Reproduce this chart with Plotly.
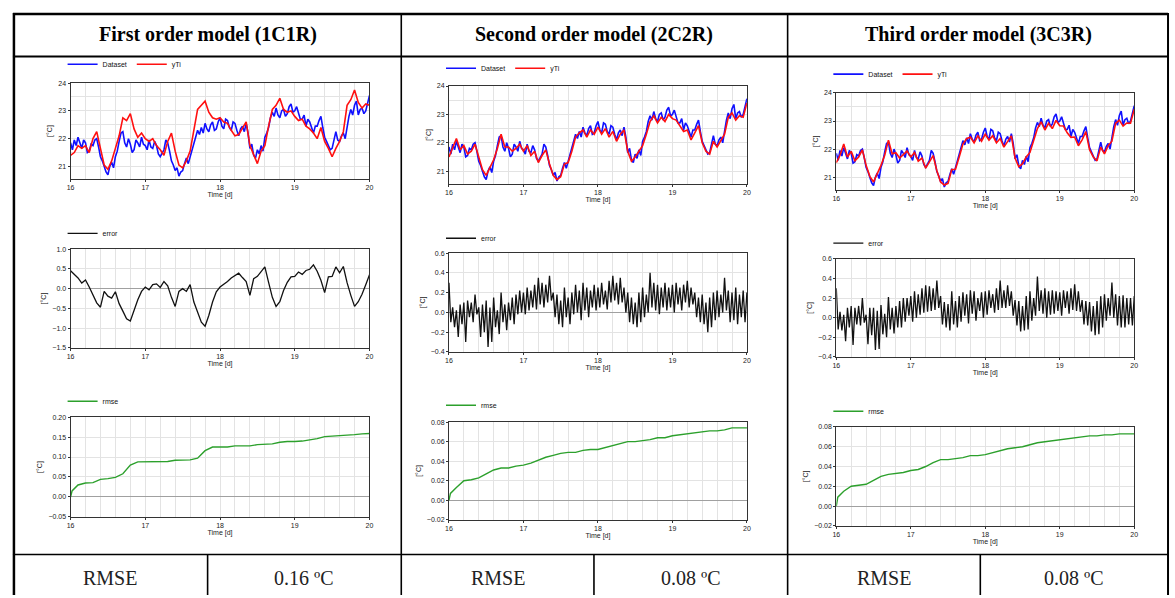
import plotly.graph_objects as go

# ---------------- data ----------------
t = [round(16 + 0.05 * i, 3) for i in range(81)]       # 0.05-day samples
t_fine = [round(16 + 0.025 * i, 3) for i in range(161)]  # 0.025-day samples

dataset = [21.85, 21.60, 21.95, 21.75, 22.05, 21.80, 21.65, 21.95, 21.85, 21.50,
           21.55, 21.80, 21.75, 21.95, 22.00, 21.70, 21.35, 21.20, 21.00, 20.80,
           20.70, 21.00, 21.15, 20.95, 21.35, 21.55, 21.90, 22.20, 22.25, 21.85,
           21.70, 22.00, 21.80, 21.50, 21.60, 21.95, 21.85, 21.70, 22.05, 21.80,
           21.75, 21.60, 21.95, 21.70, 21.65, 21.90, 21.75, 21.45, 21.35, 21.50,
           21.60, 21.95, 21.85, 21.55, 21.20, 21.05, 20.85, 20.95, 20.65, 20.80,
           20.85, 21.10, 21.30, 21.10, 21.35, 21.60, 21.80, 22.10, 22.30, 22.15,
           22.40, 22.20, 22.55, 22.35, 22.25, 22.50, 22.60, 22.30, 22.35, 22.60,
           22.75, 22.45, 22.35, 22.70, 22.65, 22.40, 22.30, 22.60, 22.55, 22.30,
           22.10, 22.35, 22.45, 22.25, 22.55, 22.20, 21.65, 21.80, 21.40, 21.30,
           21.60, 21.45, 21.75, 21.55, 22.05, 22.20, 22.40, 22.75, 22.95, 22.80,
           23.10, 22.85, 22.75, 23.00, 23.05, 22.80, 22.90, 23.15, 23.25, 22.95,
           23.00, 23.15, 22.90, 22.70, 22.70, 22.85, 22.45, 22.70, 22.60, 22.35,
           22.20, 22.45, 22.45, 22.65, 22.80, 22.40, 22.05, 21.90, 21.75, 21.60,
           21.65, 21.95, 22.25, 21.95, 21.90, 22.10, 22.20, 22.00, 22.45, 22.80,
           23.05, 22.85, 23.20, 23.35, 22.85, 23.05, 23.10, 22.90, 23.00, 23.30,
           23.55]

yti_1 = [21.40, 21.50, 21.75, 21.65, 21.75, 21.50, 22.00, 22.25, 21.65, 21.05,
         20.90, 21.20, 21.65, 22.10, 22.75, 22.65, 22.90, 22.35, 22.05, 22.20,
         22.00, 21.90, 22.00, 21.75, 21.60, 21.40, 21.90, 22.20, 21.55, 21.05,
         20.95, 21.20, 21.55, 22.25, 23.05, 23.20, 23.35, 22.95, 22.75, 22.70,
         22.75, 22.60, 22.55, 22.30, 22.10, 22.15, 22.40, 22.60, 21.75, 21.45,
         21.10, 21.55, 21.75, 22.45, 23.05, 23.20, 23.45, 23.05, 22.95, 23.00,
         22.80, 22.65, 22.70, 22.45, 22.35, 22.20, 22.00, 22.40, 21.90, 21.65,
         21.35, 21.65, 21.90, 22.25, 23.20, 23.40, 23.75, 23.30, 23.10, 23.25,
         23.20]

yti_2 = [21.50, 21.80, 22.15, 21.75, 21.90, 21.60, 21.70, 21.95, 21.45, 21.05,
         20.85, 21.10, 21.40, 21.80, 22.30, 21.85, 21.85, 21.70, 21.80, 21.95,
         21.70, 21.90, 21.55, 21.70, 21.30, 21.55, 21.75, 21.25, 20.85, 20.70,
         20.80, 21.25, 21.30, 21.70, 22.20, 22.35, 22.45, 22.20, 22.45, 22.30,
         22.55, 22.30, 22.50, 22.20, 22.40, 22.05, 22.30, 22.45, 21.70, 21.35,
         21.50, 21.70, 21.90, 22.30, 22.75, 22.95, 22.70, 22.90, 22.75, 23.00,
         22.85, 22.80, 22.60, 22.40, 22.45, 22.10, 22.35, 22.60, 22.00, 21.70,
         21.60, 22.05, 21.85, 22.10, 22.30, 22.90, 23.05, 22.80, 22.95, 22.90,
         23.40]

yti_3 = [21.52, 21.78, 22.18, 21.72, 21.92, 21.58, 21.72, 21.97, 21.42, 21.03,
         20.83, 21.12, 21.42, 21.78, 22.32, 21.83, 21.87, 21.68, 21.82, 21.93,
         21.72, 21.88, 21.57, 21.68, 21.32, 21.53, 21.77, 21.23, 20.83, 20.72,
         20.78, 21.27, 21.28, 21.72, 22.18, 22.37, 22.43, 22.22, 22.47, 22.28,
         22.53, 22.32, 22.48, 22.22, 22.38, 22.07, 22.28, 22.47, 21.68, 21.37,
         21.48, 21.72, 21.88, 22.32, 22.73, 22.97, 22.68, 22.92, 22.73, 23.02,
         22.83, 22.82, 22.58, 22.42, 22.43, 22.12, 22.33, 22.62, 21.98, 21.72,
         21.58, 22.07, 21.83, 22.12, 22.28, 22.92, 23.03, 22.82, 22.93, 22.92,
         23.42]

error_1 = [0.45, 0.37, 0.27, 0.14, 0.22, 0.04, -0.17, -0.36, -0.47, -0.07,
           -0.19, -0.24, -0.08, -0.38, -0.57, -0.76, -0.82, -0.55, -0.28, -0.07,
           0.04, -0.03, 0.10, 0.12, 0.03, 0.18, 0.07, -0.22, -0.45, -0.07,
           0.00, -0.07, 0.10, -0.34, -0.59, -0.85, -0.95, -0.68, -0.34, -0.08,
           0.04, 0.10, 0.18, 0.27, 0.32, 0.39, 0.28, 0.18, -0.17, 0.25,
           0.31, 0.42, 0.55, 0.16, -0.22, -0.45, -0.33, -0.05, 0.16, 0.30,
           0.31, 0.42, 0.36, 0.46, 0.49, 0.60, 0.44, 0.21, -0.10, 0.30,
           0.31, 0.55, 0.40, 0.56, 0.15, -0.17, -0.45, -0.33, -0.14, 0.10,
           0.35]

error_2 = [0.30, -0.10, 0.05, -0.15, 0.02, -0.25, 0.08, -0.12, 0.10, -0.30,
           0.12, -0.05, 0.10, -0.10, 0.18, -0.02, 0.05, -0.25, 0.08, -0.20,
           0.12, -0.35, 0.05, -0.30, 0.15, -0.15, 0.02, -0.22, 0.20, -0.10,
           0.08, -0.18, 0.10, -0.08, 0.15, -0.12, 0.18, -0.02, 0.22, 0.00,
           0.20, -0.02, 0.25, 0.02, 0.22, 0.05, 0.28, 0.03, 0.35, 0.08,
           0.30, 0.05, 0.28, 0.10, 0.37, 0.12, 0.20, -0.05, 0.18, -0.12,
           0.12, -0.15, 0.25, -0.05, 0.15, -0.12, 0.20, -0.02, 0.28, 0.00,
           0.22, -0.08, 0.30, 0.02, 0.25, -0.05, 0.22, 0.05, 0.28, 0.02,
           0.25, 0.05, 0.30, 0.08, 0.22, 0.03, 0.32, 0.10, 0.37, 0.12,
           0.30, 0.08, 0.35, 0.10, 0.25, 0.00, 0.20, -0.10, 0.15, -0.12,
           0.10, -0.15, 0.20, -0.10, 0.25, -0.05, 0.18, 0.00, 0.40, 0.05,
           0.30, 0.02, 0.28, -0.02, 0.25, 0.05, 0.30, 0.02, 0.25, 0.05,
           0.28, 0.00, 0.30, 0.08, 0.25, 0.02, 0.28, 0.10, 0.32, 0.05,
           0.25, 0.08, 0.20, -0.05, 0.15, -0.10, 0.18, -0.12, 0.10, -0.20,
           0.15, -0.15, 0.20, -0.08, 0.22, -0.05, 0.18, 0.00, 0.35, 0.02,
           0.22, -0.10, 0.20, -0.08, 0.25, -0.12, 0.18, -0.05, 0.22, -0.10,
           0.20]

error_3 = [0.30, -0.12, 0.06, -0.13, 0.03, -0.24, 0.10, -0.10, 0.12, -0.28,
           0.10, -0.07, 0.12, -0.08, 0.20, -0.05, 0.03, -0.27, 0.10, -0.18,
           0.10, -0.33, 0.07, -0.32, 0.13, -0.17, 0.04, -0.20, 0.21, -0.12,
           0.10, -0.16, 0.12, -0.10, 0.17, -0.10, 0.20, -0.04, 0.20, 0.02,
           0.22, -0.04, 0.27, 0.00, 0.24, 0.03, 0.30, 0.05, 0.33, 0.06,
           0.32, 0.07, 0.30, 0.08, 0.38, 0.10, 0.22, -0.07, 0.16, -0.10,
           0.14, -0.13, 0.27, -0.07, 0.17, -0.10, 0.22, -0.04, 0.26, 0.02,
           0.24, -0.06, 0.28, 0.04, 0.27, -0.03, 0.20, 0.07, 0.26, 0.00,
           0.27, 0.03, 0.28, 0.10, 0.24, 0.05, 0.30, 0.08, 0.38, 0.10,
           0.28, 0.10, 0.33, 0.12, 0.27, 0.02, 0.18, -0.08, 0.17, -0.14,
           0.12, -0.13, 0.22, -0.12, 0.27, -0.03, 0.20, 0.02, 0.42, 0.07,
           0.28, 0.04, 0.30, 0.00, 0.27, 0.03, 0.28, 0.04, 0.27, 0.07,
           0.26, 0.02, 0.28, 0.10, 0.27, 0.04, 0.30, 0.08, 0.34, 0.07,
           0.27, 0.06, 0.18, -0.07, 0.17, -0.08, 0.16, -0.14, 0.12, -0.18,
           0.17, -0.17, 0.22, -0.10, 0.24, -0.03, 0.20, 0.02, 0.36, 0.00,
           0.24, -0.08, 0.22, -0.10, 0.23, -0.10, 0.20, -0.07, 0.20, -0.08,
           0.22]

t_rmse = [16.0, 16.02] + [round(16.1 + 0.1 * i, 2) for i in range(40)]

rmse_1 = [0.000, 0.015,
          0.030, 0.035, 0.036, 0.044, 0.046, 0.049, 0.058, 0.080, 0.088, 0.088,
          0.088, 0.088, 0.089, 0.092, 0.093, 0.093, 0.097, 0.116, 0.125, 0.125,
          0.125, 0.128, 0.128, 0.128, 0.131, 0.132, 0.133, 0.137, 0.139, 0.139,
          0.140, 0.143, 0.146, 0.151, 0.152, 0.153, 0.155, 0.156, 0.158, 0.159]

rmse_2 = [0.000, 0.007,
          0.013, 0.020, 0.021, 0.023, 0.027, 0.031, 0.033, 0.033, 0.035, 0.036,
          0.038, 0.041, 0.044, 0.046, 0.048, 0.049, 0.049, 0.051, 0.052, 0.052,
          0.054, 0.056, 0.058, 0.060, 0.060, 0.061, 0.062, 0.064, 0.064, 0.066,
          0.067, 0.068, 0.069, 0.070, 0.071, 0.071, 0.072, 0.074, 0.074, 0.074]

rmse_3 = [0.000, 0.009,
          0.015, 0.020, 0.021, 0.022, 0.026, 0.030, 0.032, 0.033, 0.034, 0.036,
          0.037, 0.040, 0.044, 0.047, 0.047, 0.048, 0.049, 0.051, 0.051, 0.052,
          0.054, 0.056, 0.058, 0.059, 0.060, 0.062, 0.064, 0.065, 0.066, 0.067,
          0.068, 0.069, 0.070, 0.071, 0.071, 0.072, 0.072, 0.073, 0.073, 0.073]

headers = ["First order model (1C1R)", "Second order model (2C2R)", "Third order model (3C3R)"]
rmse_labels = ["0.16 ºC", "0.08 ºC", "0.08 ºC"]
yti_all = [yti_1, yti_2, yti_3]
err_all = [(t, error_1), (t_fine, error_2), (t_fine, error_3)]
rmse_all = [rmse_1, rmse_2, rmse_3]

# ---------------- layout helpers ----------------
W, H = 1175, 598
def px(x): return x / W
def py(y): return 1 - y / H

cols_x = [(67, 368), (448, 748), (838, 1138)]
rows_y = [[(80, 177), (248, 348), (418, 519)],
          [(83, 182), (252, 352), (423, 522)],
          [(90, 188), (258, 357), (428, 528)]]
legend_y = [[61, 232, 402], [65, 237, 406], [71, 242, 412]]

BLUE, RED, GREEN, BLACK = "#1010ff", "#ff1010", "#2ca02c", "#111111"
TICKFONT = dict(family="Liberation Sans", size=7, color="#222")

fig = go.Figure()
layout = {}

def axis_name(k, kind):
    return kind if k == 1 else f"{kind}{k}"

for c in range(3):
    for r in range(3):
        k = c * 3 + r + 1
        xa, ya = axis_name(k, "x"), axis_name(k, "y")
        lg = "legend" if k == 1 else f"legend{k}"
        if r == 0:
            fig.add_trace(go.Scatter(x=t_fine, y=dataset, mode="lines", name="Dataset",
                                     line=dict(color=BLUE, width=1.6),
                                     xaxis=xa, yaxis=ya, legend=lg))
            fig.add_trace(go.Scatter(x=t, y=yti_all[c], mode="lines", name="yTi",
                                     line=dict(color=RED, width=1.6),
                                     xaxis=xa, yaxis=ya, legend=lg))
            yconf = dict(range=[20.55, 24.0], dtick=1, tick0=21, tickformat="d",
                         minor=dict(dtick=0.5, showgrid=True, gridcolor="#e3e3e3", ticks=""),
                         zeroline=False)
        elif r == 1:
            ex, ey = err_all[c]
            fig.add_trace(go.Scatter(x=ex, y=ey, mode="lines", name="error",
                                     line=dict(color=BLACK, width=1.3),
                                     xaxis=xa, yaxis=ya, legend=lg))
            if c == 0:
                yconf = dict(range=[-1.5, 1.0], dtick=0.5, tick0=0, tickformat=".1f")
            else:
                yconf = dict(range=[-0.4, 0.6], dtick=0.2, tick0=0, tickformat=".1f")
            yconf.update(zeroline=True, zerolinecolor="#a0a0a0", zerolinewidth=1)
        else:
            fig.add_trace(go.Scatter(x=t_rmse, y=rmse_all[c], mode="lines", name="rmse",
                                     line=dict(color=GREEN, width=1.4),
                                     xaxis=xa, yaxis=ya, legend=lg))
            if c == 0:
                yconf = dict(range=[-0.05, 0.20], dtick=0.05, tick0=0, tickformat=".2f")
            else:
                yconf = dict(range=[-0.02, 0.08], dtick=0.02, tick0=0, tickformat=".2f")
            yconf.update(zeroline=True, zerolinecolor="#a0a0a0", zerolinewidth=1)

        x0, x1 = cols_x[c]
        y0, y1 = rows_y[c][r]
        layout["xaxis" if k == 1 else f"xaxis{k}"] = dict(
            domain=[px(x0), px(x1)], anchor=ya, range=[16, 20], tick0=16, dtick=1,
            tickformat="d", showgrid=True, gridcolor="#e3e3e3",
            minor=dict(dtick=0.2, showgrid=True, gridcolor="#e3e3e3", ticks=""),
            showline=True, linecolor="#333", linewidth=1, mirror=True,
            ticks="outside", ticklen=2, tickcolor="#333", tickfont=TICKFONT,
            zeroline=False,
            title=dict(text="Time [d]", font=dict(family="Liberation Sans", size=7, color="#222"),
                       standoff=1))
        ycfg = dict(domain=[py(y1), py(y0)], anchor=xa, showgrid=True, gridcolor="#e3e3e3",
                    showline=True, linecolor="#333", linewidth=1, mirror=True,
                    ticks="outside", ticklen=2, tickcolor="#333", tickfont=TICKFONT,
                    title=dict(text="[°C]", font=dict(family="Liberation Sans", size=7, color="#222"),
                               standoff=4))
        ycfg.update(yconf)
        layout["yaxis" if k == 1 else f"yaxis{k}"] = ycfg
        layout[lg] = dict(x=px(x0 - 8), y=py(legend_y[c][r]), xanchor="left", yanchor="middle",
                          orientation="h", font=dict(family="Liberation Sans", size=7, color="#111"),
                          bgcolor="rgba(0,0,0,0)", borderwidth=0, itemwidth=30,
                          tracegroupgap=0)

# ---------------- table frame ----------------
shapes = []
def line(x0, y0, x1, y1, w):
    shapes.append(dict(type="line", xref="paper", yref="paper",
                       x0=px(x0), y0=py(y0), x1=px(x1), y1=py(y1),
                       line=dict(color="black", width=w)))

line(9, 10, 1172, 10, 2.5)       # top
line(10, 9, 10, 598, 2.5)        # left
line(1172, 9, 1172, 598, 2)      # right
line(9, 53, 1172, 53, 2)         # header bottom
line(400, 9, 400, 598, 1.6)
line(789, 9, 789, 598, 1.6)
line(9, 557, 1172, 557, 1.6)     # footer top
for xx in (205, 594, 983):
    line(xx, 557, xx, 598, 1.6)

annotations = []
hdr_x = [205, 594.5, 981]
for c in range(3):
    annotations.append(dict(xref="paper", yref="paper", x=px(hdr_x[c]), y=py(31),
                            xanchor="center", yanchor="middle",
                            text=f"<b>{headers[c]}</b>", showarrow=False,
                            font=dict(family="Liberation Serif", size=20, color="black")))
rm_x = [107, 497, 886]
val_x = [302.5, 691.5, 1077.5]
for c in range(3):
    annotations.append(dict(xref="paper", yref="paper", x=px(rm_x[c]), y=py(581),
                            xanchor="center", yanchor="middle",
                            text="RMSE", showarrow=False,
                            font=dict(family="Liberation Serif", size=20, color="#222")))
    annotations.append(dict(xref="paper", yref="paper", x=px(val_x[c]), y=py(581),
                            xanchor="center", yanchor="middle",
                            text=rmse_labels[c], showarrow=False,
                            font=dict(family="Liberation Serif", size=20, color="#222")))

fig.update_layout(**layout)
fig.update_layout(width=W, height=H, margin=dict(l=0, r=0, t=0, b=0),
                  paper_bgcolor="white", plot_bgcolor="white",
                  shapes=shapes, annotations=annotations, showlegend=True)

fig.write_html("out.html")
